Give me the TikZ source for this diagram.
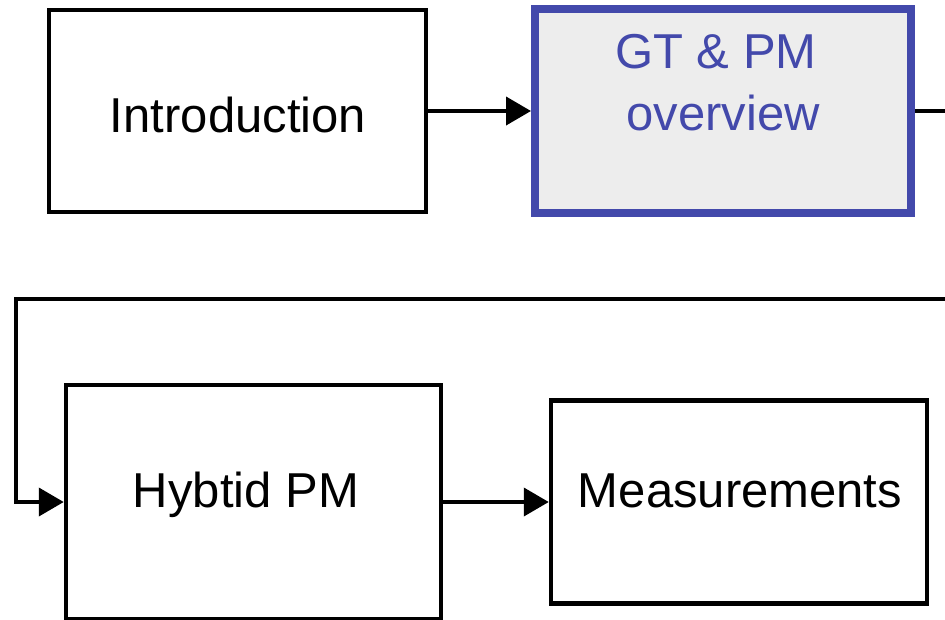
\documentclass[tikz,border=0pt]{standalone}
\usepackage{fontspec}
\setmainfont{Liberation Sans}
\usetikzlibrary{arrows.meta}
\definecolor{frameblue}{HTML}{4349AB}
\definecolor{boxgrey}{HTML}{EDEDED}
\tikzset{
  stagebox/.style={draw=black, line width=4.5pt, fill=white, inner sep=0pt},
  activebox/.style={draw=frameblue, line width=8pt, fill=boxgrey, inner sep=0pt},
  lbl/.style={anchor=base, inner sep=0pt, font=\fontsize{49}{59}\selectfont},
  flow/.style={line width=4pt, -{Triangle[length=25pt,width=28pt]}},
  plain/.style={line width=4pt}
}
\begin{document}
\begin{tikzpicture}[x=1pt, y=-1pt]
  \useasboundingbox (0,0) rectangle (945,619);
  \clip (0,0) rectangle (945,619);

  % stage boxes
  \node[stagebox, minimum width=377pt, minimum height=202pt] (intro) at (237.5,111) {};
  \node[activebox, minimum width=376pt, minimum height=204pt] (gt) at (723,111) {};
  \node[stagebox, minimum width=375pt, minimum height=234pt] (hyb) at (253.5,502) {};
  \node[stagebox, minimum width=376pt, minimum height=203pt] (meas) at (739,502) {};

  % labels
  \node[lbl] (tintro) at (238,132) {Introduction};
  \node[lbl, text=frameblue] (tgt1) at (716,68) {GT \& PM};
  \node[lbl, text=frameblue] (tgt2) at (723,130) {overview};
  \node[lbl] (thyb) at (246,507) {Hybtid PM};
  \node[lbl] (tmeas) at (740,507) {Measurements};

  % connectors
  \coordinate (outR) at (950,111);
  \coordinate (backR) at (950,299);
  \coordinate (turnL) at (16,299);
  \draw[flow] (intro.east) -- (gt.west);
  \draw[plain] (gt.east) -- (outR);
  \draw[flow] (backR) -- (turnL) |- (hyb.west);
  \draw[flow] (hyb.east) -- (meas.west);
\end{tikzpicture}
\end{document}
